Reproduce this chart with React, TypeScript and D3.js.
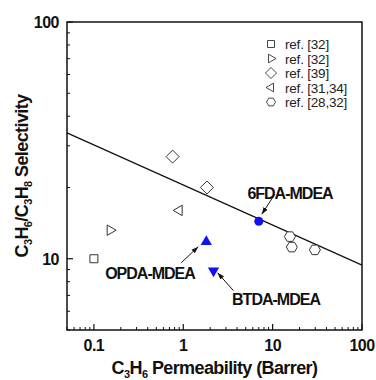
import React from "react";
import * as d3 from "d3";

// series: [permeability, selectivity]
const refSquare = [[0.1, 10]];
const refRightTri = [[0.152, 13.2]];
const refDiamond = [[0.76, 27], [1.84, 20]];
const refLeftTri = [[0.9, 16]];
const refHexagon = [[15.6, 12.4], [16.4, 11.2], [29.7, 10.9]];
const sixFda = [[7.0, 14.4]];
const opda = [[1.81, 11.8]];
const btda = [[2.18, 8.9]];
const upperBound = [[0.05, 34], [100, 9.4]];

const xTicks = [0.1, 1, 10, 100];
const yTicks = [10, 100];
const legendLabels = ["ref. [32]", "ref. [32]", "ref. [39]", "ref. [31,34]", "ref. [28,32]"];

const W = 376;
const H = 380;
const m = { left: 67, right: 14, top: 22, bottom: 50 };

const hexPath = (r: number) =>
  d3.line()(d3.range(6).map((i) => [r * Math.cos((i * Math.PI) / 3), r * Math.sin((i * Math.PI) / 3)])) + "Z";

const triPath = (r: number, angle: number) =>
  d3.line()(
    d3.range(3).map((i) => {
      const a = ((angle + i * 120) * Math.PI) / 180;
      return [r * Math.cos(a), r * Math.sin(a)];
    })
  ) + "Z";

const squarePath = (s: number) => d3.symbol(d3.symbolSquare, s * s)()!;
const diamondPath = (r: number) => d3.line()([[0, -r], [r, 0], [0, r], [-r, 0]]) + "Z";

export default function App() {
  const x = d3.scaleLog().domain([0.05, 100]).range([m.left, W - m.right]);
  const y = d3.scaleLog().domain([5, 100]).range([H - m.bottom, m.top]);
  const x0 = m.left, x1 = W - m.right, y0 = H - m.bottom, y1 = m.top;

  const xMinor = x.ticks().filter((t) => t >= 0.05 && t <= 100 && !xTicks.includes(t));
  const yMinor = y.ticks().filter((t) => t >= 5 && t <= 100 && !yTicks.includes(t));

  const line = d3.line<number[]>().x((d) => x(d[0])).y((d) => y(d[1]));

  const openStyle = { fill: "white", stroke: "#333", strokeWidth: 1 };
  const blue = "#1212ee";

  const marks = (data: number[][], path: string, style: any) =>
    data.map((d, i) => (
      <path key={i} d={path} transform={`translate(${x(d[0])},${y(d[1])})`} {...style} />
    ));

  const legendPaths = [squarePath(7), triPath(5, 0), diamondPath(5.5), triPath(5, 180), hexPath(4.5)];

  const bold = { fontFamily: "Liberation Sans, Arial, sans-serif", fontWeight: 700, fill: "#111" };

  const arrow = (sx: number, sy: number, ex: number, ey: number) => (
    <line x1={sx} y1={sy} x2={ex} y2={ey} stroke="#111" strokeWidth={1} markerEnd="url(#arr)" />
  );

  const p6 = sixFda[0], po = opda[0], pb = btda[0];

  return (
    <svg width={W} height={H} style={{ position: "absolute", left: 0, top: 0, background: "white" }}>
      <defs>
        <marker id="arr" viewBox="0 0 10 10" refX="10" refY="5" markerWidth="7" markerHeight="7" orient="auto">
          <path d="M0,1.5 L10,5 L0,8.5 Z" fill="#111" />
        </marker>
      </defs>
      <path d={line(upperBound)!} fill="none" stroke="#111" strokeWidth={1.2} />

      {marks(refSquare, squarePath(8), openStyle)}
      {marks(refRightTri, triPath(6, 0), openStyle)}
      {marks(refDiamond, diamondPath(6.5), openStyle)}
      {marks(refLeftTri, triPath(6, 180), openStyle)}
      {marks(refHexagon, hexPath(5.5), openStyle)}
      {sixFda.map((d, i) => (
        <circle key={i} cx={x(d[0])} cy={y(d[1])} r={4.5} fill={blue} />
      ))}
      {marks(opda, triPath(6.5, -90), { fill: blue })}
      {marks(btda, triPath(6.5, 90), { fill: blue })}

      {arrow(x(p6[0]) + 16, y(p6[1]) - 27, x(p6[0]) + 3, y(p6[1]) - 7)}
      {arrow(x(po[0]) - 25, y(po[1]) + 21, x(po[0]) - 8, y(po[1]) + 5)}
      {arrow(x(pb[0]) + 20, y(pb[1]) + 20, x(pb[0]) + 4, y(pb[1]) + 2)}
      <text x={290} y={199} textAnchor="middle" fontSize={16} letterSpacing={-1} {...bold}>6FDA-MDEA</text>
      <text x={150} y={279} textAnchor="middle" fontSize={16} letterSpacing={-1} {...bold}>OPDA-MDEA</text>
      <text x={276} y={305} textAnchor="middle" fontSize={16} letterSpacing={-1} {...bold}>BTDA-MDEA</text>

      {legendLabels.map((l, i) => (
        <g key={i} transform={`translate(271,${44 + i * 14.5})`}>
          <path d={legendPaths[i]} fill="white" stroke="#333" strokeWidth={0.9} />
          <text x={14} y={5} fontSize={13.5} letterSpacing={-0.2} fontFamily="Liberation Sans, Arial, sans-serif" fill="#222">{l}</text>
        </g>
      ))}

      <rect x={x0} y={y1} width={x1 - x0} height={y0 - y1} fill="none" stroke="#111" strokeWidth={1.5} />
      {xTicks.map((t) => (
        <g key={t}>
          <line x1={x(t)} x2={x(t)} y1={y0} y2={y0 - 6} stroke="#111" strokeWidth={1.2} />
          <text x={x(t)} y={y0 + 21} textAnchor="middle" fontSize={16} letterSpacing={-0.5} {...bold}>{t}</text>
        </g>
      ))}
      {xMinor.map((t, i) => (
        <line key={i} x1={x(t)} x2={x(t)} y1={y0} y2={y0 - 3} stroke="#111" strokeWidth={1} />
      ))}
      {yTicks.map((t) => (
        <g key={t}>
          <line x1={x0} x2={x0 + 6} y1={y(t)} y2={y(t)} stroke="#111" strokeWidth={1.2} />
          <text x={x0 - 8} y={y(t) + 6} textAnchor="end" fontSize={16} letterSpacing={-0.5} {...bold}>{t}</text>
        </g>
      ))}
      {yMinor.map((t, i) => (
        <line key={i} x1={x0} x2={x0 + 3} y1={y(t)} y2={y(t)} stroke="#111" strokeWidth={1} />
      ))}

      <text x={(x0 + x1) / 2} y={374} textAnchor="middle" fontSize={18} letterSpacing={-0.6} {...bold}>
        C<tspan dy={4} fontSize={11}>3</tspan>
        <tspan dy={-4}>H</tspan>
        <tspan dy={4} fontSize={11}>6</tspan>
        <tspan dy={-4}> Permeability (Barrer)</tspan>
      </text>
      <text transform={`translate(28,${(y0 + y1) / 2}) rotate(-90)`} textAnchor="middle" fontSize={18} letterSpacing={-0.6} {...bold}>
        C<tspan dy={4} fontSize={11}>3</tspan>
        <tspan dy={-4}>H</tspan>
        <tspan dy={4} fontSize={11}>6</tspan>
        <tspan dy={-4}>/C</tspan>
        <tspan dy={4} fontSize={11}>3</tspan>
        <tspan dy={-4}>H</tspan>
        <tspan dy={4} fontSize={11}>8</tspan>
        <tspan dy={-4}> Selectivity</tspan>
      </text>
    </svg>
  );
}
